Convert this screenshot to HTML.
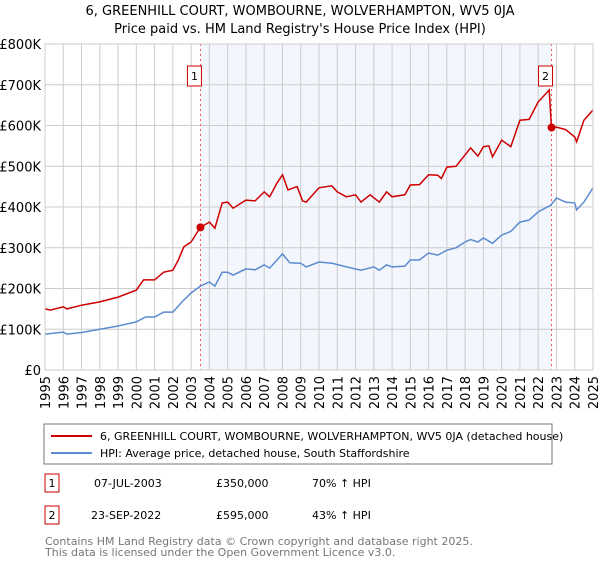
<!DOCTYPE html>
<html><head><meta charset="utf-8"><style>
body{margin:0;background:#fff;font-family:"DejaVu Sans","Liberation Sans",sans-serif;}
svg text{font-family:"DejaVu Sans","Liberation Sans",sans-serif;}
</style></head><body>
<svg id="chart" width="600" height="560" xmlns="http://www.w3.org/2000/svg">
<text x="300" y="15" text-anchor="middle" font-size="13" fill="#000">6, GREENHILL COURT, WOMBOURNE, WOLVERHAMPTON, WV5 0JA</text>
<text x="300" y="33" text-anchor="middle" font-size="13" fill="#000">Price paid vs. HM Land Registry's House Price Index (HPI)</text>
<g id="plot"></g>
<g>
<rect x="44" y="424" width="508" height="40" fill="#fff" stroke="#777"/>
<line x1="51" y1="436" x2="92" y2="436" stroke="#cc0000" stroke-width="2"/>
<text x="100" y="440" font-size="11">6, GREENHILL COURT, WOMBOURNE, WOLVERHAMPTON, WV5 0JA (detached house)</text>
<line x1="51" y1="453" x2="92" y2="453" stroke="#5b8bd0" stroke-width="2"/>
<text x="100" y="457" font-size="11">HPI: Average price, detached house, South Staffordshire</text>
</g>
<g font-size="11">
<rect x="45" y="474" width="14" height="18" fill="#fff" stroke="#cc0000"/>
<text x="52" y="487" text-anchor="middle">1</text>
<text x="94" y="487">07-JUL-2003</text>
<text x="216" y="487">£350,000</text>
<text x="312" y="487">70% ↑ HPI</text>
<rect x="45" y="506" width="14" height="18" fill="#fff" stroke="#cc0000"/>
<text x="52" y="519" text-anchor="middle">2</text>
<text x="91" y="519">23-SEP-2022</text>
<text x="216" y="519">£595,000</text>
<text x="312" y="519">43% ↑ HPI</text>
</g>
<text x="45" y="545" font-size="11" fill="#777">Contains HM Land Registry data © Crown copyright and database right 2025.</text>
<text x="45" y="556" font-size="11" fill="#777">This data is licensed under the Open Government Licence v3.0.</text>
</svg>
<script>
const hpiYears=[1995,1996,1996.2,1997,1998,1999,2000,2000.5,2001,2001.5,2002,2002.5,2003,2003.5,2004,2004.3,2004.7,2005,2005.3,2006,2006.5,2007,2007.3,2007.7,2008,2008.4,2009,2009.3,2010,2010.7,2011.5,2012.3,2013,2013.3,2013.7,2014,2014.7,2015,2015.5,2016,2016.5,2017,2017.5,2018,2018.3,2018.7,2019,2019.5,2020,2020.5,2021,2021.5,2022,2022.7,2023,2023.5,2024,2024.1,2024.5,2025];
const hpiValues=[88,93,88,92,100,108,118,130,130,142,142,167,189,206,216,206,240,240,233,248,246,258,250,270,285,263,262,253,265,262,253,245,253,245,258,253,255,270,270,287,282,294,300,314,320,314,324,311,331,340,363,368,388,405,422,412,410,393,412,447];
const priceYears=[1995,1995.3,1996,1996.2,1997,1998,1999,2000,2000.4,2001,2001.5,2002,2002.3,2002.6,2003,2003.5,2004,2004.3,2004.7,2005,2005.3,2006,2006.5,2007,2007.3,2007.7,2008,2008.3,2008.8,2009.1,2009.3,2010,2010.7,2011,2011.5,2012,2012.3,2012.8,2013.3,2013.7,2014,2014.7,2015,2015.5,2016,2016.5,2016.7,2017,2017.5,2018,2018.3,2018.7,2019,2019.3,2019.5,2020,2020.5,2021,2021.5,2022,2022.6,2022.73,2023,2023.5,2024,2024.1,2024.5,2025];
const priceValues=[150,147,155,150,159,167,179,196,221,221,240,245,270,302,314,350,363,348,410,412,397,417,415,437,425,459,479,442,450,415,412,447,452,437,425,430,412,430,412,437,425,430,454,455,479,478,470,498,500,528,545,525,548,550,523,564,548,613,615,658,687,594,596,590,572,560,613,638];
const sales=[[2003.51,350],[2022.73,595]];
const yTicks=[0,100,200,300,400,500,600,700,800];
const yTickLabels=["£0","£100K","£200K","£300K","£400K","£500K","£600K","£700K","£800K"];
const NS="http://www.w3.org/2000/svg";
const X0=45,X1=593,Y0=370,Y1=44;
const x=t=>X0+(t-1995)*(X1-X0)/30;
const y=v=>Y0-v*(Y0-Y1)/800;
const g=document.getElementById('plot');
function mk(tag,at){const e=document.createElementNS(NS,tag);for(const k in at)e.setAttribute(k,at[k]);g.appendChild(e);return e;}
let e;
e=mk('rect',{x:x(sales[0][0]),y:Y1,width:x(sales[1][0])-x(sales[0][0]),height:Y0-Y1,fill:'#f3f6fd'});


for(let i=0;i<yTicks.length;i++){
 e=mk('line',{x1:X0,x2:X1,y1:y(yTicks[i]),y2:y(yTicks[i]),stroke:'#ccc'});
 
 
 e=mk('text',{x:X0-4,y:y(yTicks[i])+5,'text-anchor':'end','font-size':13});
 e.textContent=yTickLabels[i];
 
 
}
for(let t=1995;t<=2025;t++){
 e=mk('line',{x1:x(t),x2:x(t),y1:Y1,y2:Y0,stroke:'#ccc'});
 
 
 e=mk('text',{x:0,y:0,'text-anchor':'end','font-size':13,transform:`translate(${x(t)+5},${Y0+6}) rotate(-90)`});
 e.textContent=t;
 
 
}
for(const s of sales){
 e=mk('line',{x1:x(s[0]),x2:x(s[0]),y1:Y1,y2:Y0,stroke:'#e55',"stroke-dasharray":"2,3"});
 
 
}
function path(xs,vs){return xs.map((t,i)=>(i?'L':'M')+x(t).toFixed(1)+','+y(vs[i]).toFixed(1)).join('');}
e=mk('path',{d:path(hpiYears,hpiValues),fill:'none',stroke:'#5b8bd0','stroke-width':1.5});


e=mk('path',{d:path(priceYears,priceValues),fill:'none',stroke:'#cc0000','stroke-width':1.5});


sales.forEach((s,i)=>{
 e=mk('circle',{cx:x(s[0]),cy:y(s[1]),r:4,fill:'#cc0000'});
 
 
 e=mk('rect',{x:x(s[0])-13,y:66,width:14,height:20,fill:'#fff',stroke:'#cc0000'});
 
 
 e=mk('text',{x:x(s[0])-6,y:80,'text-anchor':'middle','font-size':11});
 e.textContent=i+1;
 
 
});
e=mk('rect',{x:X0,y:Y1,width:X1-X0,height:Y0-Y1,fill:'none',stroke:'#ccc'});


</script>
</body></html>
